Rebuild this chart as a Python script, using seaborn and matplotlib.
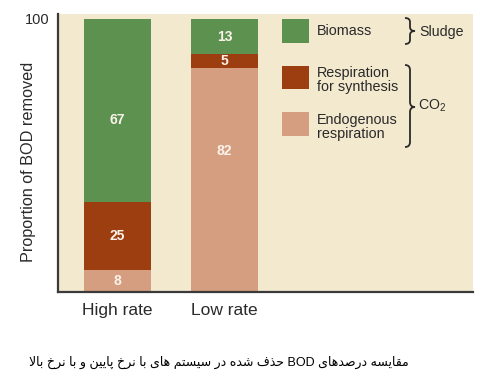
import numpy as np
import pandas as pd
import matplotlib
matplotlib.use("Agg")
import matplotlib.pyplot as plt
from matplotlib.patches import Rectangle, PathPatch
from matplotlib.path import Path
import seaborn as sns

# ---------------- data ----------------
categories = ["High rate", "Low rate"]
components = ["Endogenous\nrespiration", "Respiration\nfor synthesis", "Biomass"]
endogenous = [8, 82]
synthesis = [25, 5]
biomass = [67, 13]
y_label = "Proportion of BOD removed"
y_ticks = [100]
caption = "مقایسه درصدهای BOD حذف شده در سیستم های با نرخ پایین و با نرخ بالا"

# ---------------- style ----------------
W, H = 494, 391
c_green = "#5c9150"
c_rust = "#9d3e10"
c_salmon = "#d59e80"
c_beige = "#f3e9cf"
c_text_in = "#fbf3ea"
c_dark = "#2a2a2a"

sns.set_theme(style="white")
plt.rcParams["font.family"] = ["Liberation Sans", "DejaVu Sans"]
plt.rcParams["mathtext.fontset"] = "custom"
plt.rcParams["mathtext.rm"] = "Liberation Sans"
plt.rcParams["mathtext.it"] = "Liberation Sans"


def fx(px):
    return px / W


def fy(py):
    return 1 - py / H


# ---------------- simple Persian shaping ----------------
FORMS = {
    "ا": ("\uFE8D", "\uFE8E"),
    "ب": ("\uFE8F", "\uFE90", "\uFE91", "\uFE92"),
    "پ": ("\uFB56", "\uFB57", "\uFB58", "\uFB59"),
    "ت": ("\uFE95", "\uFE96", "\uFE97", "\uFE98"),
    "ح": ("\uFEA1", "\uFEA2", "\uFEA3", "\uFEA4"),
    "خ": ("\uFEA5", "\uFEA6", "\uFEA7", "\uFEA8"),
    "د": ("\uFEA9", "\uFEAA"),
    "ذ": ("\uFEAB", "\uFEAC"),
    "ر": ("\uFEAD", "\uFEAE"),
    "س": ("\uFEB1", "\uFEB2", "\uFEB3", "\uFEB4"),
    "ش": ("\uFEB5", "\uFEB6", "\uFEB7", "\uFEB8"),
    "ص": ("\uFEB9", "\uFEBA", "\uFEBB", "\uFEBC"),
    "ف": ("\uFED1", "\uFED2", "\uFED3", "\uFED4"),
    "ق": ("\uFED5", "\uFED6", "\uFED7", "\uFED8"),
    "ل": ("\uFEDD", "\uFEDE", "\uFEDF", "\uFEE0"),
    "م": ("\uFEE1", "\uFEE2", "\uFEE3", "\uFEE4"),
    "ن": ("\uFEE5", "\uFEE6", "\uFEE7", "\uFEE8"),
    "ه": ("\uFEE9", "\uFEEA", "\uFEEB", "\uFEEC"),
    "و": ("\uFEED", "\uFEEE"),
    "ی": ("\uFBFC", "\uFBFD", "\uFBFE", "\uFBFF"),
}


def shape(text):
    out = []
    chars = list(text)
    n = len(chars)
    i = 0
    while i < n:
        ch = chars[i]
        if ch not in FORMS:
            out.append(ch)
            i += 1
            continue
        prev = chars[i - 1] if i > 0 else None
        join_prev = prev in FORMS and len(FORMS[prev]) == 4
        # lam-alef ligature
        if ch == "ل" and i + 1 < n and chars[i + 1] == "ا":
            out.append("\uFEFC" if join_prev else "\uFEFB")
            i += 2
            continue
        nxt = chars[i + 1] if i + 1 < n else None
        forms = FORMS[ch]
        join_next = len(forms) == 4 and nxt in FORMS
        if join_prev and join_next:
            out.append(forms[3])
        elif join_prev:
            out.append(forms[1])
        elif join_next:
            out.append(forms[2])
        else:
            out.append(forms[0])
        i += 1
    s = "".join(out)
    # visual reorder (RTL paragraph with embedded LTR runs)
    tokens = []
    cur = ""
    cur_ltr = None
    for ch in s:
        is_ltr = ch.isascii() and ch.isalnum()
        if ch == " ":
            is_ltr = False
        if cur_ltr is None or is_ltr == cur_ltr:
            cur += ch
        else:
            tokens.append((cur, cur_ltr))
            cur = ch
        cur_ltr = is_ltr
    if cur:
        tokens.append((cur, cur_ltr))
    tokens.reverse()
    return "".join(t if ltr else t[::-1] for t, ltr in tokens)


# ---------------- figure ----------------
fig = plt.figure(figsize=(W / 100, H / 100), dpi=100)
fig.patch.set_facecolor("white")
ax = fig.add_axes([fx(58), fy(292), fx(473) - fx(58), fy(14) - fy(292)])
ax.set_facecolor(c_beige)

df = pd.DataFrame({
    "category": categories,
    "endogenous": endogenous,
    "synthesis": synthesis,
    "biomass": biomass,
})
df["top3"] = df["endogenous"] + df["synthesis"] + df["biomass"]
df["top2"] = df["endogenous"] + df["synthesis"]
df["top1"] = df["endogenous"]

bar_w = 0.626
for col, color in [("top3", c_green), ("top2", c_rust), ("top1", c_salmon)]:
    sns.barplot(data=df, x="category", y=col, color=color, saturation=1,
                width=bar_w, ax=ax, linewidth=0, errorbar=None)

# value labels
label_frac = {(0, "biomass"): 0.45, (1, "endogenous"): 0.63}
for i in range(len(categories)):
    bottom = 0
    for key in ["endogenous", "synthesis", "biomass"]:
        v = df.loc[i, key]
        frac = label_frac.get((i, key), 0.5)
        ax.text(i, bottom + v * frac, f"{v}", ha="center", va="center",
                color=c_text_in, fontsize=10, fontweight="bold")
        bottom += v

ax.set_xlim(-0.556, 3.32)
ax.set_ylim(0, 101.8)
ax.set_yticks(y_ticks)
ax.set_yticklabels([str(t) for t in y_ticks], fontsize=10.5, color=c_dark)
ax.tick_params(axis="y", length=0, pad=6)
ax.tick_params(axis="x", length=0, pad=8)
ax.set_xticks(range(len(categories)))
ax.set_xticklabels(categories, fontsize=12.5, color=c_dark)
ax.set_xlabel("")
ax.set_ylabel(y_label, fontsize=11.7, color=c_dark)
ax.yaxis.set_label_coords(-0.053, 0.468)
for s in ["top", "right"]:
    ax.spines[s].set_visible(False)
for s in ["left", "bottom"]:
    ax.spines[s].set_color("#3a3a3a")
    ax.spines[s].set_linewidth(1.6)

# ---------------- legend (drawn manually) ----------------
legend_rows = [
    (c_green, "Biomass", 19, 43, 31),
    (c_rust, "Respiration\nfor synthesis", 66, 89, 80.5),
    (c_salmon, "Endogenous\nrespiration", 112, 136, 127),
]
for color, label, y0, y1, ty in legend_rows:
    fig.add_artist(Rectangle((fx(282), fy(y1)), fx(309) - fx(282), fy(y0) - fy(y1),
                             transform=fig.transFigure, facecolor=color,
                             edgecolor="none"))
    fig.text(fx(317), fy(ty), label, ha="left", va="center", fontsize=10.4,
             color=c_dark, linespacing=1.0)


def brace(x0, xm, x1, yt, ytip, yb, r=5):
    pts = [
        (x0, yt), (xm, yt), (xm, yt + r),
        (xm, ytip - r),
        (xm, ytip), (x1, ytip),
        (xm, ytip), (xm, ytip + r),
        (xm, yb - r),
        (xm, yb), (x0, yb),
    ]
    codes = [Path.MOVETO, Path.CURVE3, Path.CURVE3, Path.LINETO,
             Path.CURVE3, Path.CURVE3, Path.CURVE3, Path.CURVE3,
             Path.LINETO, Path.CURVE3, Path.CURVE3]
    verts = [(fx(a), fy(b)) for a, b in pts]
    fig.add_artist(PathPatch(Path(verts, codes), transform=fig.transFigure,
                             facecolor="none", edgecolor=c_dark, linewidth=1.3))


brace(405, 410, 415, 18, 31, 44, r=4)
brace(405, 410, 415, 65, 107, 147, r=5)
fig.text(fx(419), fy(32), "Sludge", ha="left", va="center", fontsize=10.2, color=c_dark)
fig.text(fx(418), fy(106), r"CO$_2$", ha="left", va="center", fontsize=10.2, color=c_dark)

# ---------------- caption ----------------
fig.text(fx(219), fy(362), shape(caption), ha="center", va="center",
         fontsize=9, color="black", family=["Liberation Sans", "DejaVu Sans"])

fig.savefig("out.png", dpi=100, facecolor="white")
